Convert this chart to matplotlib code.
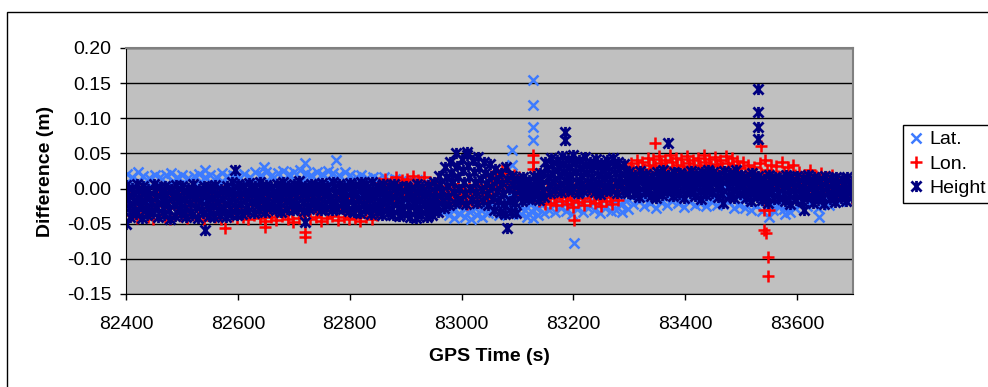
import numpy as np
import matplotlib.pyplot as plt
from matplotlib.path import Path
from matplotlib.patches import Rectangle

plt.rcParams['font.family'] = ['Liberation Sans', 'DejaVu Sans']

# GPS time grid (s), one sample row every 10 s per list
t_grid = np.arange(82400, 83701, 10)

# Height differences (mm), five rows through the band
hgt_1 = [5, 1, 7, 3, 0, 6, 2, 4, -1, 5, 3, 1, 6, 0, 4, 2, 5, -1, 3, 9,
         6, 3, 8, 4, 10, 5, 2, 7, 9, 4, 6, 11, 3, 7, 5, 8, 4, 9, 6, 3,
         8, 5, 10, 6, 9, 4, 7, 3, 6, 2,
         4, 1, 6, 2, 5, 9,
         18, 30, 38, 50, 42, 48, 40, 45, 38,
         35, 28, 22, 30, 18,
         14, 16, 12, 18, 22,
         38, 44, 40, 46, 42, 48, 40, 45, 38, 42, 36, 40, 44, 38, 35,
         23, 19, 25, 21, 18, 23, 26, 20, 24, 22, 19, 25, 21, 23, 27, 24, 20, 25, 22, 26,
         20, 16, 22, 18, 14, 20, 17, 15, 19, 16,
         18, 15, 20, 16, 14, 18, 15, 17, 13, 16, 14]
hgt_2 = [-4, -7, -2, -6, -9, -3, -5, -8, -1, -6, -4, -9, -3, -7, -5, -2, -8, -4, -6, -3,
         -1, -4, 2, -3, 1, -2, -5, 0, 3, -3, -1, 2, -4, 0, -2, 1, -3, 2, -1, -4,
         -3, -6, -1, -5, -2, -7, -4, -8, -5, -9,
         -8, -10, -5, -9, -6, -3,
         6, 16, 22, 32, 26, 32, 24, 29, 22,
         18, 12, 8, 14, 5,
         6, 8, 5, 9, 13,
         28, 33, 30, 35, 31, 36, 29, 34, 28, 32, 26, 30, 33, 28, 25,
         16, 13, 18, 14, 11, 17, 19, 13, 17, 15, 12, 18, 14, 16, 20, 17, 13, 18, 15, 19,
         14, 11, 16, 12, 8, 14, 11, 9, 13, 10,
         9, 6, 11, 7, 4, 9, 6, 8, 5, 7, 5]
hgt_3 = [-15, -18, -13, -17, -20, -14, -16, -19, -12, -17, -15, -21, -14, -18, -16, -13, -19, -15, -17, -14,
         -11, -14, -8, -13, -9, -12, -15, -10, -7, -13, -11, -8, -14, -10, -12, -9, -13, -8, -11, -14,
         -13, -16, -11, -15, -12, -17, -14, -18, -16, -20,
         -19, -21, -16, -20, -17, -14,
         -5, 4, 10, 16, 10, 16, 10, 13, 7,
         2, -3, -7, -1, -8,
         -2, 0, -1, 1, 5,
         17, 21, 19, 23, 20, 24, 18, 22, 17, 20, 15, 19, 22, 17, 14,
         10, 6, 12, 8, 5, 11, 13, 7, 11, 9, 6, 12, 8, 10, 14, 11, 4, 12, 9, 13,
         5, 2, 7, 3, -1, 5, 2, 0, 4, 1,
         1, -2, 3, -1, -4, 1, -2, 0, -3, -1, -2]
hgt_4 = [-27, -30, -25, -29, -32, -26, -28, -31, -24, -29, -27, -33, -26, -30, -28, -25, -31, -27, -29, -26,
         -22, -25, -19, -24, -20, -23, -26, -21, -18, -24, -22, -19, -25, -21, -23, -20, -24, -19, -22, -25,
         -24, -27, -22, -26, -23, -28, -25, -29, -27, -30,
         -30, -32, -27, -31, -28, -24,
         -17, -10, -5, 0, -6, 0, -5, -2, -8,
         -14, -18, -22, -17, -21,
         -10, -8, -7, -8, -4,
         5, 9, 7, 11, 8, 10, 6, 10, 5, 8, 4, 8, 10, 6, 3,
         0, -3, 2, -1, -4, 1, 4, -2, 1, -2, -1, 2, -3, 0, 4, 1, -8, 2, -2, 3,
         -4, -7, -2, -6, -10, -5, -6, -8, -9, -7,
         -8, -6, -10, -8, -12, -7, -10, -6, -9, -5, -8]
hgt_5 = [-40, -36, -42, -38, -35, -41, -37, -43, -39, -36, -40, -38, -42, -35, -39, -41, -37, -40, -36, -38,
         -36, -32, -35, -30, -33, -28, -31, -34, -29, -30, -27, -32, -29, -26, -30, -28, -31, -27, -29, -32,
         -33, -35, -31, -36, -34, -38, -35, -37, -39, -36,
         -40, -42, -38, -41, -37, -34,
         -28, -24, -20, -18, -22, -16, -20, -18, -24,
         -30, -34, -36, -33, -35,
         -18, -15, -14, -16, -12,
         -6, -2, -5, 0, -4, -7, -3, -1, -5, -8, -4, -2, -6, -3, -7,
         -8, -12, -6, -10, -14, -9, -5, -11, -8, -13, -7, -10, -15, -9, -6, -12, -20, -10, -14, -8,
         -14, -18, -12, -16, -20, -15, -13, -17, -22, -16,
         -18, -14, -20, -16, -22, -15, -19, -13, -17, -12, -15]

# Latitude differences (mm)
lat_1 = [21, 17, 23, 18, 15, 20, 16, 19, 22, 17, 20, 15, 18, 21, 16, 19, 17, 22, 18, 20,
         18, 21, 17, 23, 20, 24, 19, 22, 25, 21, 23, 26, 22, 20, 24, 21, 25, 22, 19, 23,
         19, 16, 20, 15, 17, 13, 16, 12, 14, 11,
         10, 7, 12, 6, 4, 0,
         -8, -12, -15, -10, -14, -18, -12, -16, -10,
         -10, -14, -8, -12, -6,
         -14, -18, -20, -16, -12,
         -6, -10, -4, -8, -12, -5, -9, -3, -7, -11, -4, -8, -6, -10, -5,
         -2, 2, -4, 0, -6, 1, -3, 3, -1, -5, 2, -2, 0, -4, 1, -3, -1, 2, -5, -2,
         -5, -8, -3, -10, -6, -9, -4, -7, -11, -5,
         -3, -6, -1, -5, -2, -7, -4, 0, -3, -1, -2]
lat_2 = [8, 5, 10, 6, 3, 9, 4, 7, 11, 5, 8, 3, 6, 9, 4, 7, 5, 10, 6, 8,
         4, 7, 2, 8, 5, 10, 3, 7, 11, 6, 9, 12, 8, 5, 10, 7, 11, 8, 4, 9,
         7, 4, 8, 3, 5, 1, 4, 0, 2, -1,
         -2, -5, 0, -6, -9, -12,
         -22, -26, -30, -25, -28, -32, -27, -30, -24,
         -22, -26, -20, -24, -18,
         -26, -30, -32, -28, -24,
         -18, -22, -16, -20, -24, -17, -21, -15, -19, -23, -16, -20, -18, -22, -17,
         -12, -8, -14, -10, -16, -9, -13, -7, -11, -15, -8, -12, -10, -14, -9, -13, -11, -8, -15, -12,
         -16, -19, -14, -21, -17, -20, -15, -18, -22, -16,
         -12, -15, -10, -14, -11, -16, -13, -9, -12, -10, -8]
lat_3 = [-8, -12, -5, -10, -14, -7, -11, -9, -4, -12, -8, -13, -10, -6, -11, -9, -12, -5, -10, -7,
         -8, -5, -11, -4, -7, -2, -9, -5, -1, -6, -3, 0, -4, -8, -2, -5, -1, -4, -9, -3,
         -5, -8, -4, -9, -7, -11, -8, -12, -10, -13,
         -14, -17, -12, -18, -22, -26,
         -34, -38, -42, -36, -40, -44, -38, -41, -35,
         -34, -37, -32, -36, -30,
         -36, -40, -42, -38, -35,
         -30, -34, -28, -32, -36, -29, -33, -27, -31, -35, -28, -32, -30, -34, -29,
         -22, -18, -25, -20, -27, -19, -24, -17, -21, -26, -18, -23, -20, -25, -19, -24, -22, -18, -27, -23,
         -27, -30, -25, -32, -28, -31, -26, -29, -33, -27,
         -22, -25, -20, -28, -21, -24, -19, -17, -16, -14, -12]

# Longitude differences (mm)
lon_1 = [-6, -10, -4, -9, -12, -5, -8, -11, -3, -7, -10, -6, -9, -13, -5, -8, -11, -4, -7, -10,
         -10, -14, -8, -12, -16, -11, -15, -9, -13, -17, -12, -8, -14, -10, -16, -12, -9, -15, -11, -13,
         -14, -18, -12, -16, -15, 8, 14, 10, 16, 12,
         14, 18, 12, 16, 10, 8,
         4, 0, 6, 2, -2, 3, 0, 5, 2,
         18, 24, 26, 22, 20,
         16, 12, 8, 4, -2,
         0, -4, 2, -2, -6, 1, -3, 3, -1, -5, 2, -2, 4, 20, 32,
         36, 40, 38, 44, 42, 46, 40, 48, 44, 42, 46, 40, 44, 48, 42, 45, 41, 47, 43, 39,
         38, 34, 30, 36, 40, 34, 32, 38, 30, 34,
         24, 20, 26, 18, 22, 16, 19, 14, 12, 10, 8]
lon_2 = [-22, -26, -19, -24, -28, -21, -25, -27, -18, -23, -26, -20, -24, -29, -21, -25, -27, -19, -23, -26,
         -26, -30, -24, -28, -32, -27, -31, -25, -29, -33, -28, -24, -30, -26, -32, -28, -25, -31, -27, -29,
         -28, -32, -26, -30, -28, 0, 5, 2, 6, 3,
         3, 6, 0, 4, -2, -4,
         -6, -10, -4, -8, -12, -7, -9, -5, -8,
         10, 14, 16, 12, 8,
         6, 2, -2, -8, -12,
         -10, -14, -8, -12, -16, -9, -13, -7, -11, -15, -8, -12, -6, 10, 22,
         26, 30, 28, 34, 32, 36, 30, 38, 34, 32, 36, 30, 34, 38, 32, 35, 31, 37, 33, 29,
         24, 20, 16, 22, 26, 20, 18, 24, 16, 20,
         12, 8, 14, 6, 10, 4, 8, 2, 0, -2, -4]
lon_3 = [-38, -42, -35, -40, -44, -37, -41, -43, -36, -39, -42, -38, -40, -45, -37, -41, -43, -36, -39, -42,
         -40, -44, -38, -42, -46, -41, -45, -39, -43, -47, -42, -38, -44, -40, -46, -42, -39, -45, -41, -43,
         -42, -46, -40, -44, -38, -22, -6, -10, -5, -8,
         -8, -5, -10, -6, -12, -14,
         -16, -20, -14, -18, -22, -17, -19, -15, -18,
         0, 4, 6, 2, -2,
         -4, -8, -12, -18, -22,
         -20, -24, -18, -22, -26, -19, -23, -17, -21, -25, -18, -22, -16, 0, 12,
         16, 20, 18, 24, 22, 26, 20, 28, 24, 22, 26, 20, 24, 28, 22, 25, 21, 27, 23, 19,
         10, 6, 2, 8, 12, 6, 4, 10, 2, 6,
         0, -4, 2, -6, -2, -8, -4, -10, -12, -14, -16]

# isolated points (time s, value mm)
lat_out_t = [82541, 82646, 82720, 82775, 83090, 83090, 83128, 83128, 83128, 83128, 83201, 83549, 83579, 83640]
lat_out_v = [27, 30, 36, 40, 55, 34, 155, 119, 88, 69, -77, -40, -36, -40]
lon_out_t = [82577, 82649, 82720, 82720, 83128, 83128, 83128, 83201, 83346, 83535, 83540, 83550, 83540, 83545, 83548, 83548]
lon_out_v = [-56, -54, -69, -62, 48, 38, 28, -45, 65, 60, -30, -30, -59, -63, -97, -125]
hgt_out_t = [82400, 82541, 82595, 82720, 83010, 83082, 83185, 83185, 83370, 83531, 83531, 83531, 83531, 83613]
hgt_out_v = [-50, -59, 26, -47, 52, -56, 81, 69, 65, 141, 109, 88, 70, -30]


def series(rows, offsets, out_t, out_v):
    t = np.concatenate([t_grid + o for o in offsets] + [np.array(out_t)])
    v = np.concatenate([np.array(r) for r in rows] + [np.array(out_v)]) / 1000.0
    return t, v


lat_t, lat_v = series([lat_1, lat_2, lat_3], [1, 4, 7], lat_out_t, lat_out_v)
lon_t, lon_v = series([lon_1, lon_2, lon_3], [3, 6, 9], lon_out_t, lon_out_v)
hgt_t, hgt_v = series([hgt_1, hgt_2, hgt_3, hgt_4, hgt_5], [0, 2, 4, 6, 8], hgt_out_t, hgt_out_v)

# Excel-style star: x with a vertical bar
star = Path([(-1, -1), (1, 1), (-1, 1), (1, -1), (0, -1.1), (0, 1.1)],
            [Path.MOVETO, Path.LINETO, Path.MOVETO, Path.LINETO, Path.MOVETO, Path.LINETO])

fig = plt.figure(figsize=(9.88, 3.87), dpi=100)
ax = fig.add_axes([126/988, 1-294/387, (853-126)/988, (294-48)/387])
ax.set_facecolor('#C0C0C0')

ax.plot(lat_t, lat_v, ls='none', marker='x', ms=7, mew=1.8, color='#3D7BFF', label='Lat.')
ax.plot(lon_t, lon_v, ls='none', marker='+', ms=8, mew=1.8, color='#FF0000', label='Lon.')
ax.plot(hgt_t, hgt_v, ls='none', marker=star, ms=8, mew=2.0, color='#000080', label='Height')

ax.set_xlim(82400, 83700)
ax.set_ylim(-0.15, 0.20)
ax.set_xticks(np.arange(82400, 83601, 200))
ax.set_yticks(np.arange(-0.15, 0.201, 0.05))
ax.yaxis.set_major_formatter(plt.FormatStrFormatter('%.2f'))
ax.tick_params(direction='out', length=4.5, width=1, labelsize=14)
ax.tick_params(axis='x', pad=11)
ax.tick_params(axis='y', pad=6)
ax.yaxis.grid(True, color='black', lw=1)
ax.set_axisbelow(True)
for s in ['top', 'right']:
    ax.spines[s].set_color('#808080')
    ax.spines[s].set_linewidth(1.5)
for s in ['left', 'bottom']:
    ax.spines[s].set_color('black')

ax.set_ylabel('Difference (m)', fontsize=14, fontweight='bold', labelpad=9)
ax.set_xlabel('GPS Time (s)', fontsize=14, fontweight='bold', labelpad=11)

leg = ax.legend(loc='upper left', bbox_to_anchor=(903/988, 1-125/387), bbox_transform=fig.transFigure,
                fancybox=False, edgecolor='black', framealpha=1, fontsize=14,
                handlelength=0.7, handletextpad=0.35, borderpad=0.3, labelspacing=0.35,
                borderaxespad=0)
leg.get_frame().set_linewidth(1)

fig.patches.append(Rectangle((7/988, -0.05), 1.0, (387-12)/387 + 0.05, transform=fig.transFigure,
                             fill=False, edgecolor='black', lw=1))

fig.savefig('out.png', dpi=100)
